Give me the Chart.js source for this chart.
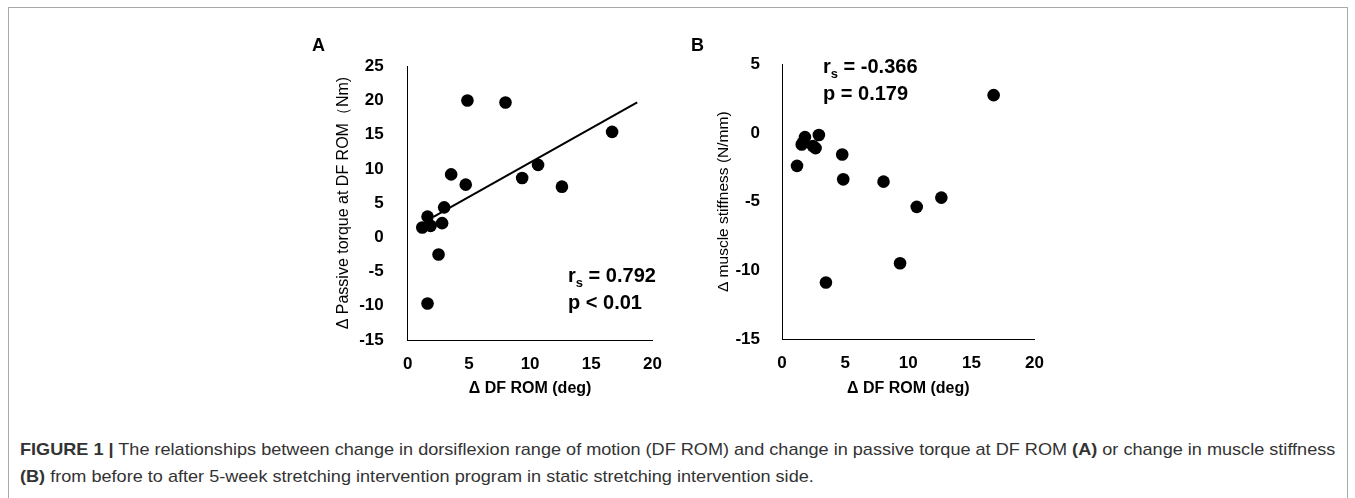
<!DOCTYPE html>
<html>
<head>
<meta charset="utf-8">
<script src="https://cdn.jsdelivr.net/npm/chart.js@4.4.1/dist/chart.umd.min.js"></script>
<style>
  body { margin: 0; background: #fff; width: 1355px; height: 498px; overflow: hidden; position: relative;
         font-family: "Liberation Sans", Arial, sans-serif; }
  #frame { position: absolute; left: 8px; top: 7px; width: 1338px; height: 540px; border: 1px solid #a9a9a9; }
  canvas { position: absolute; }
  .panel { position: absolute; font-weight: bold; font-size: 18px; line-height: 18px; color: #000; }
  .stat { position: absolute; font-weight: bold; font-size: 20px; line-height: 25px; color: #000; white-space: nowrap; }
  .stat .s { font-size: 13px; position: relative; top: 5px; }
  .cap { position: absolute; left: 20px; font-family: "Liberation Sans Narrow", "Liberation Sans", Arial, sans-serif;
         font-size: 17px; line-height: 20px; color: #333; white-space: nowrap; transform-origin: 0 0; }
</style>
</head>
<body>
<div id="frame"></div>
<canvas id="chartA" width="370" height="360" style="left:300px;top:40px"></canvas>
<canvas id="chartB" width="370" height="360" style="left:680px;top:40px"></canvas>

<div class="panel" style="left:312px;top:36px">A</div>
<div class="panel" style="left:691px;top:36px">B</div>

<div class="stat" style="left:568px;top:263px">r<span class="s">s</span> = 0.792<br>p &lt; 0.01</div>
<div class="stat" style="left:823px;top:54px">r<span class="s">s</span> = -0.366<br>p = 0.179</div>

<div class="cap" id="cap1" style="top:440px"><b>FIGURE 1 |</b> The relationships between change in dorsiflexion range of motion (DF ROM) and change in passive torque at DF ROM <b>(A)</b> or change in muscle stiffness</div>
<div class="cap" id="cap2" style="top:467px"><b>(B)</b> from before to after 5-week stretching intervention program in static stretching intervention side.</div>

<script>
// --- data ---
// panel A: change in DF ROM vs change in passive torque
const dfRomA  = [1.19, 1.62, 1.87, 2.81, 2.98, 2.52, 3.55, 4.88, 4.74, 7.99, 9.35, 10.65, 12.6, 16.7, 1.62];
const torqueA = [1.44, 3.03, 1.68, 2.07, 4.38, -2.5, 9.19, 20.0, 7.7, 19.7, 8.66, 10.58, 7.4, 15.4, -9.67];
// regression line end points (panel A)
const fitX = [2.1, 18.75];
const fitY = [3.0, 19.7];

// panel B: change in DF ROM vs change in muscle stiffness
const dfRomB = [1.19, 1.56, 1.65, 1.82, 2.45, 2.66, 2.92, 3.48, 4.77, 4.85, 8.04, 9.35, 10.67, 12.62, 16.76];
const stiffB = [-2.39, -0.84, -0.7, -0.3, -0.95, -1.1, -0.15, -10.87, -1.56, -3.37, -3.54, -9.47, -5.37, -4.7, 2.75];

const xTitle = 'Δ DF ROM (deg)';
const yTitleA = 'Δ Passive torque at DF ROM（Nm)';
const yTitleB = 'Δ muscle stiffness (N/mm)';

const FONT = '"Liberation Sans", Arial, sans-serif';

function toPoints(xs, ys) {
    return xs.map((x, i) => ({ x: x, y: ys[i] }));
}

// shared axis builder; box sizes live in `box` so they can be nudged after the first layout
function makeScales(yMin, yMax, yTitle, box, yTickPad, yTitleSize) {
    return {
        x: {
            type: 'linear', min: 0, max: 20,
            grid: { display: false },
            border: { display: true, color: '#000', width: 1 },
            ticks: { stepSize: 5, color: '#000', padding: 6, font: { family: FONT, size: 17, weight: 'bold' } },
            title: { display: true, text: xTitle, color: '#000', padding: { top: 2, bottom: 2 },
                     font: { family: FONT, size: 16, weight: 'bold' } },
            afterFit: s => { s.height = box.xH; }
        },
        y: {
            type: 'linear', min: yMin, max: yMax,
            grid: { display: false },
            border: { display: true, color: '#000', width: 1 },
            ticks: { stepSize: 5, color: '#000', padding: yTickPad, font: { family: FONT, size: 17, weight: 'bold' } },
            title: { display: true, text: yTitle, color: '#000', padding: { top: 4, bottom: 4 },
                     font: { family: FONT, size: yTitleSize } },
            afterFit: s => { s.width = box.yW; }
        }
    };
}

// move the plot area onto the target rectangle (canvas px)
function placeArea(chart, box, pad, target) {
    for (let i = 0; i < 3; i++) {
        const a = chart.chartArea;
        pad.top += target.top - a.top;
        pad.right += a.right - target.right;
        box.xH += a.bottom - target.bottom;
        box.yW += target.left - a.left;
        chart.options.layout.padding = Object.assign({}, pad);
        chart.update('none');
    }
}

const commonPlugins = { legend: { display: false }, tooltip: { enabled: false } };

const boxA = { xH: 60, yW: 77.7 };
const padA = { left: 30, top: 22.7, right: 17, bottom: 0 };
const chartA = new Chart(document.getElementById('chartA'), {
    type: 'scatter',
    data: {
        datasets: [
            { data: toPoints(dfRomA, torqueA), backgroundColor: '#000', borderWidth: 0, pointRadius: 6.3 },
            { data: toPoints(fitX, fitY), showLine: true, borderColor: '#000', borderWidth: 2, pointRadius: 0 }
        ]
    },
    options: {
        responsive: false, animation: false,
        layout: { padding: Object.assign({}, padA) },
        scales: makeScales(-15, 25, yTitleA, boxA, 16, 16),
        plugins: commonPlugins
    }
});
placeArea(chartA, boxA, padA, { left: 107.7, top: 22.7, right: 352.5, bottom: 300 });

const boxB = { xH: 60, yW: 72 };
const padB = { left: 30, top: 22.7, right: 14, bottom: 0 };
const chartB = new Chart(document.getElementById('chartB'), {
    type: 'scatter',
    data: {
        datasets: [
            { data: toPoints(dfRomB, stiffB), backgroundColor: '#000', borderWidth: 0, pointRadius: 6.3 }
        ]
    },
    options: {
        responsive: false, animation: false,
        layout: { padding: Object.assign({}, padB) },
        scales: makeScales(-15, 5, yTitleB, boxB, 14, 15.5),
        plugins: commonPlugins
    }
});
placeArea(chartB, boxB, padB, { left: 102, top: 22.7, right: 355, bottom: 299.3 });

// squeeze the caption so the first line spans the frame like in the figure
const cap1 = document.getElementById('cap1');
const cap2 = document.getElementById('cap2');
const k = 1315 / cap1.scrollWidth;
cap1.style.transform = cap2.style.transform = 'scaleX(' + k + ')';
</script>
</body>
</html>
